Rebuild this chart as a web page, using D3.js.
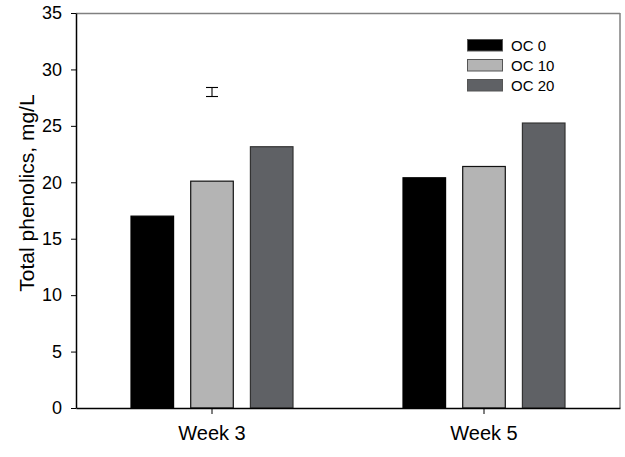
<!DOCTYPE html>
<html><head><meta charset="utf-8">
<script src="https://cdn.jsdelivr.net/npm/d3@7"></script>
<style>body{margin:0;background:#fff}svg{display:block}text{font-family:"Liberation Sans",Arial,sans-serif}</style>
</head><body>
<svg id="c" width="625" height="457"></svg>
<script>
const categories = ["Week 3", "Week 5"];
const seriesNames = ["OC 0", "OC 10", "OC 20"];
const oc0 = [17.0, 20.4];
const oc10 = [20.1, 21.4];
const oc20 = [23.15, 25.25];
const errorBar = {cat: "Week 3", series: "OC 10", low: 27.6, high: 28.4};
const yTicks = [0, 5, 10, 15, 20, 25, 30, 35];
const colors = ["#000000", "#b4b4b4", "#5f6165"];
const strokes = ["#000000", "#111111", "#333333"];

const series = [oc0, oc10, oc20];
const svg = d3.select("#c");
const L = 76, R = 620, T = 13, B = 408;
const x = d3.scaleBand().domain(categories).range([L, R]).padding(0);
const xs = d3.scaleBand().domain(seriesNames).range([-81.5, 81.5]).paddingInner(0.27).paddingOuter(0);
const y = d3.scaleLinear().domain([0, 35]).range([B, T]);

// frame (top/right gray)
svg.append("line").attr("x1", L).attr("x2", R).attr("y1", T + 0.5).attr("y2", T + 0.5).attr("stroke", "#808080").attr("stroke-width", 1.5);
svg.append("line").attr("x1", R).attr("x2", R).attr("y1", T).attr("y2", B).attr("stroke", "#808080").attr("stroke-width", 1.5);

// bars
categories.forEach((c, ci) => {
  seriesNames.forEach((s, si) => {
    const v = series[si][ci];
    svg.append("rect")
      .attr("x", x(c) + x.bandwidth() / 2 + xs(s) + 0.5)
      .attr("y", y(v))
      .attr("width", xs.bandwidth() - 1)
      .attr("height", y(0) - y(v))
      .attr("fill", colors[si])
      .attr("stroke", strokes[si])
      .attr("stroke-width", 1.2);
  });
});

// error bar
{
  const cx = x(errorBar.cat) + x.bandwidth() / 2 + xs(errorBar.series) + xs.bandwidth() / 2;
  const g = svg.append("g").attr("stroke", "#000").attr("stroke-width", 1.1);
  g.append("line").attr("x1", cx).attr("x2", cx).attr("y1", y(errorBar.low)).attr("y2", y(errorBar.high));
  [errorBar.low, errorBar.high].forEach(v => g.append("line").attr("x1", cx - 6).attr("x2", cx + 6).attr("y1", y(v)).attr("y2", y(v)));
}

// axes
const yAxis = svg.append("g").attr("transform", `translate(${L},0)`)
  .call(d3.axisLeft(y).tickValues(yTicks).tickSize(5).tickPadding(9).tickSizeOuter(0));
yAxis.select(".domain").attr("stroke", "#000").attr("stroke-width", 1.5);
yAxis.selectAll(".tick line").attr("stroke", "#000");
yAxis.selectAll("text").attr("font-size", 18).attr("fill", "#000");

const xAxis = svg.append("g").attr("transform", `translate(0,${B})`)
  .call(d3.axisBottom(x).tickSize(6).tickPadding(12).tickSizeOuter(0));
xAxis.select(".domain").attr("stroke", "#000").attr("stroke-width", 1.5);
xAxis.selectAll(".tick line").attr("stroke", "#000");
xAxis.selectAll("text").attr("font-size", 20).attr("fill", "#000");

// y label
svg.append("text").attr("transform", "translate(34,193) rotate(-90)")
  .attr("text-anchor", "middle").attr("font-size", 21).attr("fill", "#000")
  .text("Total phenolics, mg/L");

// legend
const lg = svg.append("g").attr("transform", "translate(467,39)");
seriesNames.forEach((s, i) => {
  const gy = i * 20;
  lg.append("rect").attr("x", 0.5).attr("y", gy + 0.5).attr("width", 35).attr("height", 11.5)
    .attr("fill", colors[i]).attr("stroke", "#555").attr("stroke-width", 1);
  lg.append("text").attr("x", 44).attr("y", gy + 11.7).attr("font-size", 15).attr("fill", "#000").text(s);
});
</script>
</body></html>
